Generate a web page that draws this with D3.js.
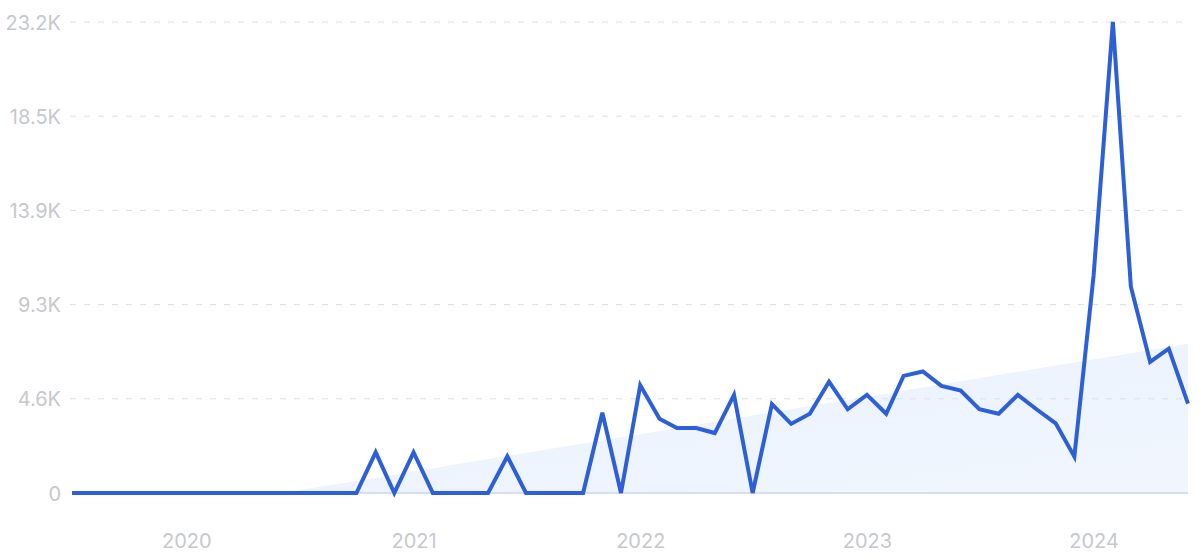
<!DOCTYPE html>
<html>
<head>
<meta charset="utf-8">
<script src="https://cdn.jsdelivr.net/npm/d3@7"></script>
<style>
  html, body { margin: 0; padding: 0; background: #ffffff; }
  svg { display: block; }
</style>
</head>
<body>
<svg id="chart" width="1200" height="560"></svg>
<script>
// Monthly values, Jul 2019 .. Jun 2024
const months = d3.range(60).map(i => new Date(2019, 6 + i, 1));
const values = [
  0, 0, 0, 0, 0, 0, 0, 0, 0, 0, 0, 0,          // Jul 2019 - Jun 2020
  0, 0, 0, 0, 2000, 0, 2000, 0, 0, 0, 0, 1800, // Jul 2020 - Jun 2021
  0, 0, 0, 0, 3950, 0, 5300, 3650, 3200, 3200, 2950, 4830, // Jul 2021 - Jun 2022
  0, 4370, 3400, 3900, 5480, 4120, 4830, 3900, 5760, 5980, 5270, 5040, // Jul 2022 - Jun 2023
  4120, 3900, 4830, 4120, 3430, 1790, 10700, 23170, 10150, 6450, 7100, 4400  // Jul 2023 - Jun 2024
];
const yMax = 23170;
const yTickLabels = ["0", "4.6K", "9.3K", "13.9K", "18.5K", "23.2K"];
const xTickYears = [2020, 2021, 2022, 2023, 2024];
const xTickLabels = ["2020", "2021", "2022", "2023", "2024"];

(function () {
const svg = d3.select("#chart");
const mLeft = 72, mRight = 1188, mTop = 22, mBottom = 493;

const x = d3.scaleTime()
  .domain([months[0], months[months.length - 1]])
  .range([mLeft, mRight]);
const y = d3.scaleLinear().domain([0, yMax]).range([mBottom, mTop]);

// Trend (linear regression over the series)
const n = values.length;
const idx = d3.range(n);
const mx = d3.mean(idx), my = d3.mean(values);
const slope = d3.sum(idx, i => (i - mx) * (values[i] - my)) / d3.sum(idx, i => (i - mx) * (i - mx));
const intercept = my - slope * mx;
const trend = idx.map(i => intercept + slope * i);

const defs = svg.append("defs");
const grad = defs.append("linearGradient").attr("id", "tg")
  .attr("x1", "0").attr("y1", "0").attr("x2", "1").attr("y2", "1");
grad.append("stop").attr("offset", "0%").attr("stop-color", "#e9f1fd");
grad.append("stop").attr("offset", "100%").attr("stop-color", "#f1f6fe");

svg.append("path")
  .datum(idx)
  .attr("fill", "url(#tg)")
  .attr("d", d3.area()
    .x(i => x(months[i]))
    .y0(y(0))
    .y1(i => Math.min(y(0), y(trend[i]))));

// Grid lines
const yTicks = yTickLabels.map((_, k) => yMax * k / 5);
svg.append("g").selectAll("line")
  .data(yTicks.slice(1))
  .join("line")
  .attr("x1", mLeft - 2).attr("x2", mRight)
  .attr("y1", d => y(d)).attr("y2", d => y(d))
  .attr("stroke", "#d9e1ee")
  .attr("stroke-width", 1)
  .attr("stroke-dasharray", "6,8");

svg.append("line")
  .attr("x1", mLeft).attr("x2", mRight)
  .attr("y1", y(0)).attr("y2", y(0))
  .attr("stroke", "#c9d6ee").attr("stroke-width", 1.5);

// Y axis labels
const yAxis = d3.axisLeft(y).tickValues(yTicks)
  .tickFormat((d, i) => yTickLabels[i]).tickSize(0).tickPadding(0);
const gy = svg.append("g").attr("transform", "translate(61,0)").call(yAxis);
gy.select(".domain").remove();
gy.selectAll("text")
  .attr("fill", "#c6c8cd")
  .attr("font-family", "Inter, 'Open Sans', sans-serif")
  .attr("font-size", 20)
  .attr("dy", "0.35em");

// X axis labels
const xAxis = d3.axisBottom(x)
  .tickValues(xTickYears.map(yr => new Date(yr, 0, 1)))
  .tickFormat((d, i) => xTickLabels[i]).tickSize(0).tickPadding(0);
const gx = svg.append("g").attr("transform", "translate(0,541)").call(xAxis);
gx.select(".domain").remove();
gx.selectAll("text")
  .attr("fill", "#c6c8cd")
  .attr("font-family", "Inter, 'Open Sans', sans-serif")
  .attr("font-size", 20)
  .attr("dy", "0.35em");

// Line
svg.append("path")
  .datum(values)
  .attr("fill", "none")
  .attr("stroke", "#2c5fd8")
  .attr("stroke-width", 4)
  .attr("stroke-linejoin", "miter")
  .attr("d", d3.line().x((d, i) => x(months[i])).y(d => y(d)));
})();
</script>
</body>
</html>
